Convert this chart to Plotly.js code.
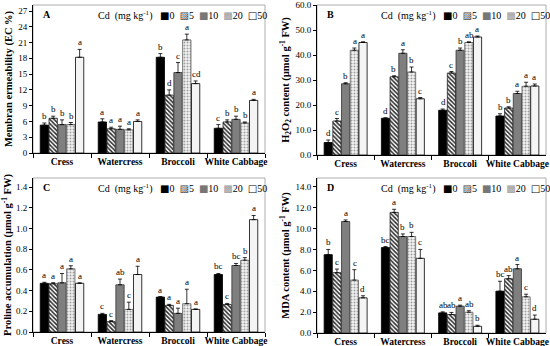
<!DOCTYPE html>
<html>
<head>
<meta charset="utf-8">
<script src="https://cdn.plot.ly/plotly-3.0.1.min.js"></script>
<style>html,body{margin:0;padding:0;background:#fff;}#chart{width:550px;height:346px;}</style>
</head>
<body>
<div id="chart"></div>
<script>
// ---------- DATA ----------
const categories = ['Cress', 'Watercress', 'Broccoli', 'White Cabbage'];
const cdLevels = ['0', '5', '10', '20', '50'];

// Rows = Cd level (0,5,10,20,50); columns = category
const ecMean = [
  [5.3, 5.9, 18.2, 4.7],
  [6.6, 4.6, 11.0, 5.9],
  [5.4, 4.5, 15.3, 6.4],
  [5.4, 4.4, 21.5, 5.7],
  [18.2, 6.0, 13.2, 10.0]
];
const ecErr = [
  [0.4, 0.6, 0.7, 0.7],
  [0.4, 0.3, 1.0, 0.4],
  [0.9, 0.6, 1.9, 0.6],
  [0.4, 0.2, 1.1, 0.2],
  [1.5, 0.3, 0.5, 0.2]
];
const ecLetters = [
  ['b', 'a', 'b', 'c'],
  ['b', 'a', 'd', 'b'],
  ['b', 'a', 'c', 'b'],
  ['b', 'a', 'a', 'b'],
  ['a', 'a', 'cd', 'a']
];

const h2o2Mean = [
  [5.0, 14.7, 17.9, 15.6],
  [13.6, 31.3, 32.8, 18.8],
  [28.5, 40.7, 41.9, 24.6],
  [41.9, 33.2, 45.0, 27.5],
  [45.0, 22.5, 47.2, 27.6]
];
const h2o2Err = [
  [1.0, 0.2, 0.5, 0.9],
  [1.0, 0.4, 0.6, 0.5],
  [0.4, 1.4, 0.9, 0.9],
  [0.9, 2.0, 0.3, 1.6],
  [0.3, 0.5, 0.4, 0.8]
];
const h2o2Letters = [
  ['d', 'd', 'd', 'b'],
  ['c', 'b', 'c', 'b'],
  ['b', 'a', 'b', 'a'],
  ['a', 'b', 'ab', 'a'],
  ['a', 'c', 'a', 'a']
];

const prolineMean = [
  [0.47, 0.17, 0.337, 0.555],
  [0.466, 0.10, 0.257, 0.266],
  [0.475, 0.456, 0.18, 0.642],
  [0.61, 0.218, 0.273, 0.693],
  [0.47, 0.555, 0.218, 1.085]
];
const prolineErr = [
  [0.01, 0.01, 0.005, 0.01],
  [0.01, 0.01, 0.01, 0.01],
  [0.09, 0.055, 0.05, 0.02],
  [0.03, 0.07, 0.14, 0.025],
  [0.005, 0.08, 0.005, 0.04]
];
const prolineLetters = [
  ['a', 'c', 'a', 'bc'],
  ['a', 'c', 'a', 'c'],
  ['a', 'ab', 'a', 'bc'],
  ['a', 'c', 'a', 'b'],
  ['a', 'a', 'a', 'a']
];

const mdaMean = [
  [7.51, 8.19, 1.93, 4.01],
  [5.78, 11.56, 1.77, 5.2],
  [10.69, 9.25, 2.57, 6.16],
  [5.07, 9.25, 1.99, 3.47],
  [3.37, 7.16, 0.64, 1.32]
];
const mdaErr = [
  [0.5, 0.1, 0.1, 0.95],
  [0.35, 0.3, 0.2, 0.3],
  [0.15, 0.25, 0.1, 0.4],
  [1.0, 0.4, 0.15, 0.25],
  [0.2, 0.85, 0.1, 0.4]
];
const mdaLetters = [
  ['b', 'bc', 'ab', 'bc'],
  ['c', 'a', 'ab', 'ab'],
  ['a', 'b', 'a', 'a'],
  ['c', 'b', 'ab', 'c'],
  ['d', 'c', 'b', 'd']
];

// ---------- STYLE ----------
const W = 550, H = 346;
const SERIF = 'Liberation Serif, Times New Roman, serif';
const BARGAP = 0.24, GROUPGAP = 0.06;

const levelStyles = [
  {color: '#000000', line: '#000000'},
  {color: '#ffffff', line: '#222222', pattern: {shape: '\\', fgcolor: '#2a2a2a', bgcolor: '#ffffff', size: 3, solidity: 0.5}},
  {color: '#7f7f7f', line: '#333333'},
  {color: '#ffffff', line: '#555555', pattern: {shape: '.', fgcolor: '#a0a0a0', bgcolor: '#f4f4f4', size: 3, solidity: 0.35}},
  {color: '#f4f4f4', line: '#000000'}
];

const panels = [
  {mean: ecMean, err: ecErr, letters: ecLetters, xa: 'x', ya: 'y', label: 'A',
   xdom: [33, 265], ydom: [5, 153], range: [0, 28.14], dtick: 3, fmt: 'd',
   title: 'Membran ermeability (EC %)'},
  {mean: h2o2Mean, err: h2o2Err, letters: h2o2Letters, xa: 'x2', ya: 'y2', label: 'B',
   xdom: [317, 546], ydom: [5, 155], range: [0, 60], dtick: 10, fmt: '.1f',
   title: 'H<sub>2</sub>O<sub>2</sub> content (µmol g<sup>-1</sup> FW)'},
  {mean: prolineMean, err: prolineErr, letters: prolineLetters, xa: 'x3', ya: 'y3', label: 'C',
   xdom: [33, 265], ydom: [178, 332], range: [0, 1.487], dtick: 0.2, fmt: '.1f',
   title: 'Proline accumulation (µmol g<sup>-1</sup> FW)'},
  {mean: mdaMean, err: mdaErr, letters: mdaLetters, xa: 'x4', ya: 'y4', label: 'D',
   xdom: [317, 546], ydom: [178, 333], range: [0, 14.86], dtick: 2, fmt: '.1f',
   title: 'MDA content (µmol g<sup>-1</sup> FW)'}
];

const traces = [];
const annotations = [];
const shapes = [];
const layout = {
  width: W, height: H,
  margin: {l: 0, r: 0, t: 0, b: 0},
  paper_bgcolor: '#ffffff', plot_bgcolor: '#ffffff',
  barmode: 'group', bargap: BARGAP, bargroupgap: GROUPGAP,
  showlegend: false,
  font: {family: SERIF, size: 9, color: '#000'},
  annotations: annotations, shapes: shapes
};

panels.forEach((p, pi) => {
  const axSuffix = pi === 0 ? '' : String(pi + 1);
  const xDomain = [p.xdom[0] / W, p.xdom[1] / W];
  const yDomain = [1 - p.ydom[1] / H, 1 - p.ydom[0] / H];

  layout['xaxis' + axSuffix] = {
    domain: xDomain, anchor: p.ya, type: 'category',
    categoryorder: 'array', categoryarray: categories,
    showline: true, linecolor: '#000', linewidth: 1,
    ticks: 'outside', tickson: 'boundaries', ticklen: 4, tickcolor: '#000',
    tickangle: 0, automargin: false,
    tickfont: {family: SERIF, size: 9.5, weight: 'bold', color: '#000'},
    showgrid: false, zeroline: false, fixedrange: true
  };
  layout['yaxis' + axSuffix] = {
    domain: yDomain, anchor: p.xa, range: p.range,
    tick0: 0, dtick: p.dtick, tickformat: p.fmt,
    showline: true, linecolor: '#000', linewidth: 1,
    ticks: 'outside', ticklen: 3, tickcolor: '#000', automargin: false,
    tickfont: {family: SERIF, size: 9, color: '#000'},
    showgrid: false, zeroline: false, fixedrange: true,
    title: {text: p.title, font: {family: SERIF, size: 10.5, weight: 'bold', color: '#000'}, standoff: 3}
  };

  // light frame around plot area
  shapes.push({type: 'rect', xref: p.xa + ' domain', yref: p.ya + ' domain',
    x0: 0, x1: 1, y0: 0, y1: 1, layer: 'below',
    line: {color: '#9a9a9a', width: 0.8}, fillcolor: 'rgba(0,0,0,0)'});

  const plotW = (p.xdom[1] - p.xdom[0]);
  const slotPx = plotW / categories.length * (1 - BARGAP) / cdLevels.length;

  cdLevels.forEach((lvl, li) => {
    const st = levelStyles[li];
    const marker = {color: st.color, line: {color: st.line, width: 0.8}};
    if (st.pattern) marker.pattern = Object.assign({fillmode: 'replace'}, st.pattern);
    traces.push({
      type: 'bar', name: lvl, x: categories, y: p.mean[li],
      xaxis: p.xa, yaxis: p.ya, marker: marker,
      error_y: {type: 'data', array: p.err[li], arrayminus: p.err[li].map(() => 0),
        symmetric: false, color: '#000', thickness: 0.8, width: 2},
      hoverinfo: 'skip'
    });
    categories.forEach((c, ci) => {
      annotations.push({
        xref: p.xa, yref: p.ya, x: c, y: p.mean[li][ci] + p.err[li][ci],
        xanchor: 'center', yanchor: 'bottom', yshift: 0,
        xshift: Math.round((li - (cdLevels.length - 1) / 2) * slotPx),
        text: p.letters[li][ci], showarrow: false,
        font: {family: SERIF, size: 9, color: 'black'}
      });
    });
  });

  // panel letter
  annotations.push({xref: p.xa + ' domain', yref: p.ya + ' domain', x: 0.035, y: 0.985,
    xanchor: 'left', yanchor: 'top', showarrow: false,
    text: '<b>' + p.label + '</b>', font: {family: SERIF, size: 10, color: '#000'}});

  // legend (text-style, as in the original)
  const sym = (ch, col) => '<span style="font-family:DejaVu Sans;color:' + col + '">' + ch + '</span>';
  const legendText = 'Cd  (mg kg<sup>-1</sup>)   ' +
    sym('■', '#000') + '0  ' + sym('▨', '#444') + '5  ' + sym('■', '#777') + '10  ' +
    sym('▩', '#999') + '20  ' + sym('□', '#000') + '50';
  annotations.push({xref: p.xa + ' domain', yref: p.ya + ' domain', x: 0.27, y: 0.985,
    xanchor: 'left', yanchor: 'top', showarrow: false,
    text: legendText, font: {family: SERIF, size: 10, color: '#000'}});
});

Plotly.newPlot('chart', traces, layout, {staticPlot: true, displayModeBar: false});
</script>
</body>
</html>
